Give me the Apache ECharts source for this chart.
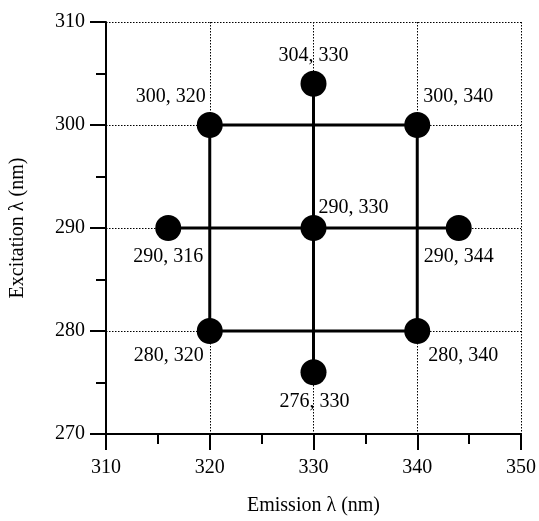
<!DOCTYPE html>
<html><head><meta charset="utf-8">
<script src="https://cdn.jsdelivr.net/npm/echarts@6/dist/echarts.min.js"></script>
<style>html,body{margin:0;padding:0;background:#fff}#c{width:539px;height:521px}</style>
</head><body><div id="c"></div>
<script>
// Points: emission (x) and excitation (y) wavelengths, nm
const emission   = [330, 340, 320, 330, 316, 344, 320, 340, 330];
const excitation = [304, 300, 300, 290, 290, 290, 280, 280, 276];
// Connecting lines
const squareX = [320, 340, 340, 320, 320];
const squareY = [300, 300, 280, 280, 300];
const hLineX = [316, 344];
const hLineY = [290, 290];
const vLineX = [330, 330];
const vLineY = [276, 304];
// Axis ticks
const xTicks = [310, 320, 330, 340, 350];
const yTicks = [270, 280, 290, 300, 310];

// label placement per point: [align, dx, dy]
const labelPlace = [
  ['center', 0, -28],
  ['left', 6, -28],
  ['right', -4, -28],
  ['left', 5, -20],
  ['center', 0, 29],
  ['center', 0, 29],
  ['right', -6, 25],
  ['left', 11, 25],
  ['center', 1, 30]
];

const font = 'Liberation Serif, Times New Roman, serif';
const pts = emission.map((x, i) => ({
  value: [x, excitation[i]],
  label: { align: labelPlace[i][0], offset: [labelPlace[i][1], labelPlace[i][2]] }
}));
const pairs = (xs, ys) => xs.map((x, i) => [x, ys[i]]);
const lineStyle = { color: '#000', width: 3 };

const axisCommon = {
  axisLine: { show: true, onZero: false, lineStyle: { color: '#000', width: 2 } },
  axisTick: { show: true, inside: false, length: 16, lineStyle: { color: '#000', width: 2 } },
  minorTick: { show: true, splitNumber: 2, length: 10, lineStyle: { color: '#000', width: 2 } },
  splitLine: { show: true, lineStyle: { color: '#000', width: 1, type: [1.5, 1.5] } },
  axisLabel: { color: '#000', fontFamily: font, fontSize: 20, margin: 24 },
  nameLocation: 'middle',
  nameTextStyle: { color: '#000', fontFamily: font, fontSize: 20 }
};

const chart = echarts.init(document.getElementById('c'), null, { renderer: 'canvas' });
chart.setOption({
  animation: false,
  backgroundColor: '#fff',
  grid: { left: 104, top: 22, right: 16, bottom: 81, containLabel: false },
  xAxis: Object.assign({}, axisCommon, {
    type: 'value', position: 'bottom', min: xTicks[0], max: xTicks[xTicks.length - 1], interval: 10,
    name: 'Emission λ (nm)', nameGap: 62
  }),
  yAxis: Object.assign({}, axisCommon, {
    type: 'value', position: 'left', min: yTicks[0], max: yTicks[yTicks.length - 1], interval: 10,
    name: 'Excitation λ (nm)', nameGap: 78,
    axisLabel: Object.assign({}, axisCommon.axisLabel, { margin: 21 })
  }),
  series: [
    { type: 'line', data: pairs(squareX, squareY), symbol: 'none', lineStyle, z: 3 },
    { type: 'line', data: pairs(hLineX, hLineY), symbol: 'none', lineStyle, z: 3 },
    { type: 'line', data: pairs(vLineX, vLineY), symbol: 'none', lineStyle, z: 3 },
    {
      type: 'scatter', data: pts, symbolSize: 26, z: 5,
      itemStyle: { color: '#000', opacity: 1 },
      label: {
        show: true, position: 'inside', verticalAlign: 'middle',
        color: '#000', fontFamily: font, fontSize: 20,
        formatter: p => p.value[1] + ', ' + p.value[0]
      }
    }
  ]
});
</script>
</body></html>
